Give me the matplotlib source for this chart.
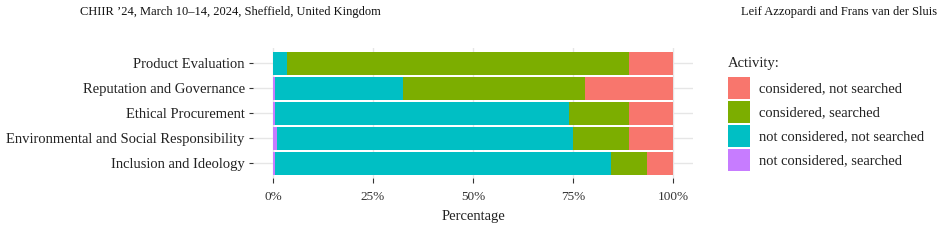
import matplotlib
matplotlib.use("Agg")
import matplotlib.pyplot as plt
from matplotlib.patches import Patch
import numpy as np

plt.rcParams['font.family'] = ['Liberation Serif', 'DejaVu Serif']

categories = ["Product Evaluation", "Reputation and Governance", "Ethical Procurement",
              "Environmental and Social Responsibility", "Inclusion and Ideology"]
series_names = ["not considered, searched", "not considered, not searched",
                "considered, searched", "considered, not searched"]
not_cons_searched = [0.0, 0.6, 0.6, 0.9, 0.6]
not_cons_not_searched = [3.4, 31.8, 73.3, 74.1, 84.0]
cons_searched = [85.5, 45.5, 15.0, 13.9, 9.0]
cons_not_searched = [11.1, 22.1, 11.1, 11.1, 6.4]
colors = {"considered, not searched": "#F8766D", "considered, searched": "#7CAE00",
          "not considered, not searched": "#00BFC4", "not considered, searched": "#C77CFF"}
xticks = [0, 25, 50, 75, 100]
xticklabels = ["0%", "25%", "50%", "75%", "100%"]

W, H = 943, 242
fig = plt.figure(figsize=(W / 100, H / 100), dpi=100)
ax = fig.add_axes([253 / W, (H - 178.3) / H, 440 / W, 130 / H])

y = np.arange(len(categories))
left = np.zeros(len(categories))
series = [not_cons_searched, not_cons_not_searched, cons_searched, cons_not_searched]
for name, vals in zip(series_names, series):
    ax.barh(y, vals, left=left, height=0.9, color=colors[name], edgecolor='none', zorder=2)
    left = left + np.array(vals)

ax.set_xlim(-5, 105)
ax.set_ylim(len(categories) - 0.4, -0.6)
ax.set_yticks(y)
ax.set_yticklabels(categories, fontsize=10.5, color='#222222')
ax.set_xticks(xticks)
ax.set_xticklabels(xticklabels, fontsize=9.5, color='#333333')
ax.set_xlabel("Percentage", fontsize=10.5, color='#222222', labelpad=5)
ax.grid(True, color='#e6e6e6', linewidth=1.0, zorder=0)
ax.set_axisbelow(True)
for s in ax.spines.values():
    s.set_visible(False)
ax.tick_params(axis='y', length=3, width=0.8, color='#333333', pad=3)
ax.tick_params(axis='x', length=3.5, width=0.8, color='#333333', pad=6)

order = ["considered, not searched", "considered, searched",
         "not considered, not searched", "not considered, searched"]
handles = [Patch(facecolor=colors[n], edgecolor='none', label=n) for n in order]
leg = fig.legend(handles=handles, loc='upper left', bbox_to_anchor=(728 / W, 1 - 77 / H),
                 frameon=False, fontsize=10.5,
                 handlelength=1.5, handleheight=1.94, labelspacing=0.14, handletextpad=0.6,
                 borderaxespad=0, borderpad=0)
for t in leg.get_texts():
    t.set_color('#222222')
fig.text(728 / W, 1 - 63 / H, "Activity:", fontsize=10.5, va='center', ha='left', color='#222222')

fig.text(80 / W, 1 - 12 / H, "CHIIR \u201924, March 10\u201314, 2024, Sheffield, United Kingdom",
         fontsize=9, va='center', ha='left', color='#111111')
fig.text(937 / W, 1 - 12 / H, "Leif Azzopardi and Frans van der Sluis",
         fontsize=9, va='center', ha='right', color='#111111')

fig.savefig("out.png", dpi=100)
